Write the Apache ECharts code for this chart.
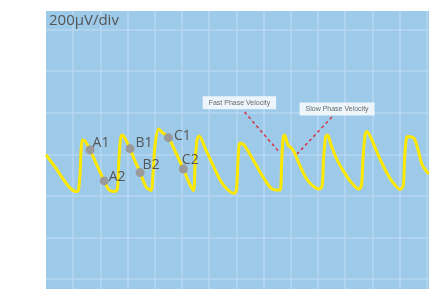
<!DOCTYPE html>
<html>
<head>
<meta charset="utf-8">
<script src="https://cdn.jsdelivr.net/npm/echarts@6/dist/echarts.min.js"></script>
<style>
  html, body { margin: 0; padding: 0; background: #fff; }
  #chart { width: 429px; height: 289px; }
</style>
</head>
<body>
<div id="chart"></div>
<script>
  // time in divisions, voltage in µV (200 µV per division)
  const traceT = [0, 0.33, 0.63, 0.88, 1.10, 1.19, 1.25, 1.29, 1.34, 1.43, 1.62, 1.88, 2.14, 2.32, 2.54, 2.63, 2.68, 2.78, 2.87,
    3.09, 3.27, 3.46, 3.68, 3.86, 3.93, 4.01, 4.14, 4.26, 4.50, 4.78, 5.05, 5.26, 5.42, 5.48, 5.55, 5.63, 5.85, 6.10, 6.40,
    6.65, 6.91, 7.00, 7.06, 7.13, 7.28, 7.68, 8.05, 8.31, 8.60, 8.66, 8.71, 8.77, 8.90, 9.08, 9.34, 9.56, 9.78, 10.04, 10.15,
    10.20, 10.28, 10.35, 10.48, 10.70, 11.07, 11.32, 11.51, 11.60, 11.65, 11.73, 11.80, 11.95, 12.24, 12.61, 12.83, 13.01,
    13.13, 13.18, 13.24, 13.31, 13.53, 13.68, 13.83, 14.08]
  const traceV = [-3, -61, -119, -162, -179, -172, -99, 21, 69, 64, 21, -56, -128, -172, -179, -162, -27, 93, 84,
    27, -32, -88, -157, -174, -100, 45, 122, 107, 80, 6, -71, -138, -174, -51, 69, 88, 30, -42, -124,
    -167, -188, -172, -27, 54, 45, -42, -124, -167, -172, -51, 69, 93, 45, 21, -56, -114, -148, -167, -152,
    -27, 83, 93, 45, -27, -109, -150, -167, -148, -27, 93, 110, 78, -12, -108, -148, -169,
    -152, -27, 69, 86, 76, 21, -51, -95]

  const pointNames = ['A1', 'A2', 'B1', 'B2', 'C1', 'C2']
  const pointT = [1.62, 2.14, 3.09, 3.46, 4.50, 5.05]
  const pointV = [21, -128, 27, -88, 80, -71]

  const noteNames = ['Fast Phase Velocity', 'Slow Phase Velocity']
  const noteAt = [[7.11, 248], [10.70, 218]]
  const noteFrom = [[7.30, 203], [10.51, 179]]
  const noteTo = [[8.57, 11], [9.23, 1]]

  // label offsets [dx, dy] for the point names
  const labelOffsets = { A1: [-2, -7], A2: [0, -4], B1: [1, -6], B2: [-2, -8], C1: [1, -2], C2: [-6, -9] }

  const chart = echarts.init(document.getElementById('chart'))
  const gridColor = '#b6d7f0'
  chart.setOption({
    animation: false,
    title: {
      text: '200µV/div',
      left: 44, top: 8,
      textStyle: { color: '#555', fontSize: 15, fontWeight: 'normal', fontFamily: 'Open Sans' }
    },
    grid: {
      left: 46, top: 11, right: 0, bottom: 0,
      show: true, backgroundColor: '#9ecaea', borderWidth: 0
    },
    xAxis: {
      type: 'value', min: 0, max: 14.08, interval: 1,
      axisLine: { show: false }, axisTick: { show: false }, axisLabel: { show: false },
      splitLine: { show: true, showMinLine: false, showMaxLine: false, lineStyle: { color: gridColor, width: 1.5 } }
    },
    yAxis: {
      type: 'value', min: -648, max: 689, minInterval: 200, maxInterval: 200,
      axisLine: { show: false }, axisTick: { show: false }, axisLabel: { show: false },
      splitLine: { show: true, showMinLine: false, showMaxLine: false, lineStyle: { color: gridColor, width: 1.5 } }
    },
    series: [
      {
        type: 'line',
        data: traceT.map((t, i) => [t, traceV[i]]),
        smooth: 0.3,
        symbol: 'none',
        lineStyle: { color: '#fde800', width: 3 },
        markLine: {
          silent: true,
          symbol: 'none',
          label: { show: false },
          lineStyle: { color: '#d8313f', type: [3, 3], width: 1.5 },
          data: noteFrom.map((f, i) => [{ coord: f }, { coord: noteTo[i] }])
        }
      },
      {
        type: 'scatter',
        z: 5,
        data: pointNames.map((n, i) => ({
          name: n,
          value: [pointT[i], pointV[i]],
          label: { offset: labelOffsets[n] }
        })),
        symbolSize: 9,
        itemStyle: { color: '#9a9a9a', opacity: 1 },
        label: {
          show: true, position: 'right', distance: 0,
          formatter: '{b}', color: '#555', fontSize: 14, fontFamily: 'Open Sans'
        }
      },
      {
        type: 'scatter',
        z: 5,
        data: noteNames.map((n, i) => ({ name: n, value: noteAt[i] })),
        symbolSize: 0,
        label: {
          show: true, position: 'inside',
          formatter: '{b}', color: '#444', fontSize: 7, fontFamily: 'Liberation Sans',
          backgroundColor: '#fff', padding: [3, 6]
        }
      }
    ]
  })
</script>
</body>
</html>
